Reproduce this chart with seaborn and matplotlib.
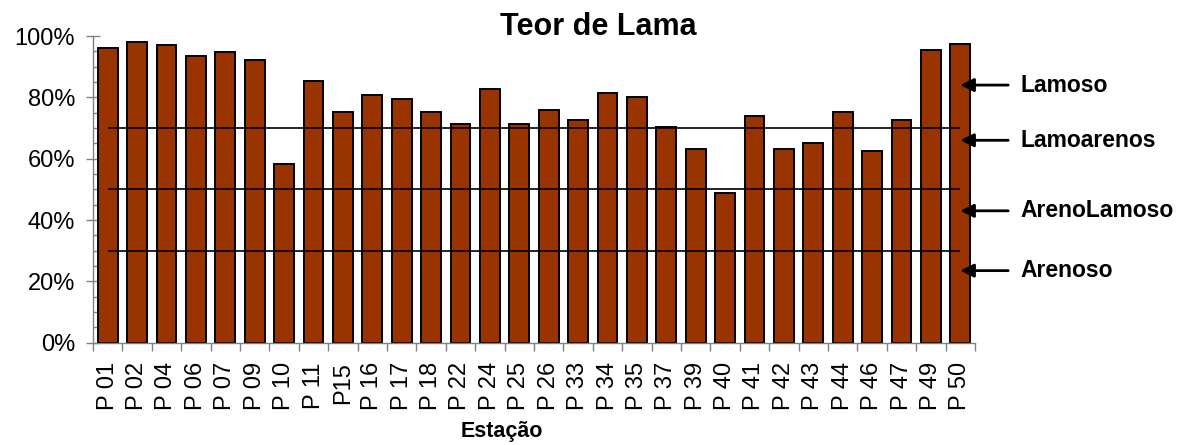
import numpy as np
import pandas as pd
import matplotlib
matplotlib.use("Agg")
import matplotlib.pyplot as plt
from matplotlib.ticker import FixedLocator, MultipleLocator, FuncFormatter
import seaborn as sns

stations = ["P 01", "P 02", "P 04", "P 06", "P 07", "P 09", "P 10", "P 11", "P15", "P 16",
            "P 17", "P 18", "P 22", "P 24", "P 25", "P 26", "P 33", "P 34", "P 35", "P 37",
            "P 39", "P 40", "P 41", "P 42", "P 43", "P 44", "P 46", "P 47", "P 49", "P 50"]
mud_pct = [96.0, 98.0, 97.0, 93.6, 94.8, 92.3, 58.2, 85.3, 75.3, 80.8,
           79.6, 75.2, 71.3, 82.8, 71.3, 75.9, 72.7, 81.5, 80.2, 70.2,
           63.3, 48.7, 73.9, 63.3, 65.1, 75.2, 62.6, 72.7, 95.4, 97.3]
thresholds = [70, 50, 30]
class_names = ["Lamoso", "Lamoarenos", "ArenoLamoso", "Arenoso"]
class_y = [84, 66, 43, 23.5]

sns.set_style("white")
plt.rcParams['font.family'] = ['Liberation Sans', 'DejaVu Sans']
plt.rcParams['text.color'] = 'black'
plt.rcParams['xtick.labelcolor'] = 'black'
plt.rcParams['ytick.labelcolor'] = 'black'

df = pd.DataFrame({"Estação": stations, "Teor": mud_pct})

fig = plt.figure(figsize=(11.84, 4.45), dpi=100)
ax = fig.add_axes([93/1184, 1 - 342.7/445, (975-93)/1184, (342.7-36)/445])

sns.barplot(data=df, x="Estação", y="Teor", color="#993300", saturation=1,
            edgecolor="black", linewidth=1.4, width=0.68, ax=ax, zorder=2)

n = len(stations)
ax.hlines(thresholds, 0, n - 1, colors="black", linewidth=1.2, zorder=3)

ax.set_xlim(-0.5, n - 0.5)
ax.set_ylim(0, 100)

for s in ["top", "right"]:
    ax.spines[s].set_visible(False)
for s in ["left", "bottom"]:
    ax.spines[s].set_color("#808080")
    ax.spines[s].set_linewidth(1.0)

ax.yaxis.set_major_locator(MultipleLocator(20))
ax.yaxis.set_minor_locator(MultipleLocator(5))
ax.yaxis.set_major_formatter(FuncFormatter(lambda v, p: f"{v:.0f}%"))
ax.tick_params(axis="y", which="major", direction="inout", length=10, width=1.0,
               color="#808080", labelcolor="black", labelsize=17, pad=8, left=True)
ax.tick_params(axis="y", which="minor", direction="in", length=5, width=1.0,
               color="#808080", left=True)

ax.xaxis.set_minor_locator(FixedLocator(np.arange(-0.5, n, 1.0)))
ax.tick_params(axis="x", which="major", length=0, labelsize=17, labelcolor="black",
               pad=14, rotation=90, bottom=True)
ax.tick_params(axis="x", which="minor", direction="out", length=6, width=1.0,
               color="#808080", bottom=True)

ax.set_xlabel("")
ax.set_ylabel("")

for name, yv in zip(class_names, class_y):
    ax.annotate("", xy=(n - 1, yv), xytext=(n + 0.63, yv), xycoords="data",
                arrowprops=dict(arrowstyle="-|>", color="black", lw=2.0,
                                mutation_scale=20, shrinkA=0, shrinkB=0),
                annotation_clip=False, zorder=5)
    ax.text(n + 1.05, yv, name, fontsize=16.5, fontweight="bold", va="center",
            ha="left", color="black", clip_on=False)

fig.text(0.505, 1 - 35/445, "Teor de Lama", fontsize=22, fontweight="bold",
         ha="center", va="baseline", color="black")
fig.text(502/1184, 1 - 432/445, "Estação", fontsize=15.5, fontweight="bold",
         ha="center", va="center", color="black")

fig.savefig("out.png", dpi=100)
